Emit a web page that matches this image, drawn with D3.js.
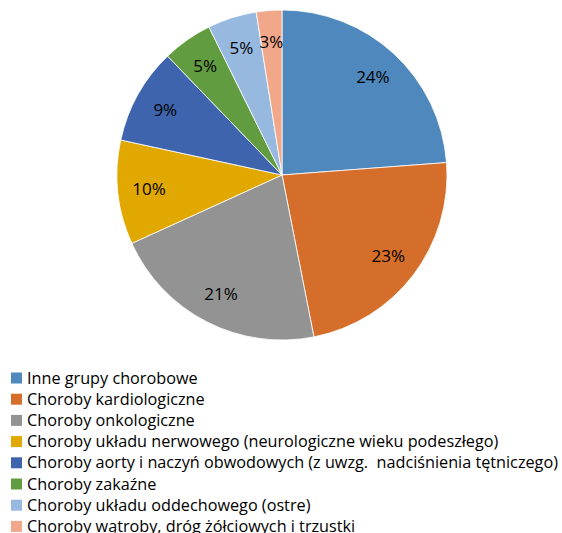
<!DOCTYPE html>
<html>
<head>
<meta charset="utf-8">
<script src="https://cdn.jsdelivr.net/npm/d3@7"></script>
<style>
    body { margin: 0; background: #fff; }
    text { font-family: "Open Sans", "Noto Sans", sans-serif; fill: #000; }
    .legend-label { white-space: pre; }
</style>
</head>
<body>
<svg id="chart"></svg>
<script>
// data
const categories = [
    'Inne grupy chorobowe',
    'Choroby kardiologiczne',
    'Choroby onkologiczne',
    'Choroby układu nerwowego (neurologiczne wieku podeszłego)',
    'Choroby aorty i naczyń obwodowych (z uwzg.  nadciśnienia tętniczego)',
    'Choroby zakaźne',
    'Choroby układu oddechowego (ostre)',
    'Choroby wątroby, dróg żółciowych i trzustki'
];
const shares = [23.8, 23.1, 21.3, 10.2, 9.4, 4.9, 4.8, 2.5];
const sliceLabels = ['24%', '23%', '21%', '10%', '9%', '5%', '5%', '3%'];
const colors = ['#4e88bc', '#d46e2a', '#939393', '#e0a800', '#3e64ad', '#629c40', '#97b9e0', '#f1a88a'];

const width = 562, height = 533;

const svg = d3.select('#chart')
    .attr('width', width)
    .attr('height', height);

const data = categories.map((c, i) => ({ name: c, value: shares[i], label: sliceLabels[i], color: colors[i] }));

const radius = 165;
const pieG = svg.append('g')
    .attr('transform', 'translate(282,175)');

const pie = d3.pie().sort(null).value(d => d.value);
const arc = d3.arc().innerRadius(0).outerRadius(radius);
const labelArc = d3.arc().innerRadius(radius * 0.81).outerRadius(radius * 0.81);

const arcs = pie(data);

pieG.selectAll('.slice')
    .data(arcs)
    .enter().append('path')
    .attr('class', 'slice')
    .attr('d', arc)
    .attr('fill', d => d.data.color)
    .attr('stroke', '#fff')
    .attr('stroke-width', 0.8);

pieG.selectAll('.pct')
    .data(arcs)
    .enter().append('text')
    .attr('class', 'pct')
    .attr('transform', d => `translate(${labelArc.centroid(d)})`)
    .attr('text-anchor', 'middle')
    .attr('dy', '0.36em')
    .style('font-size', '17px')
    .text(d => d.data.label);

// legend
const legend = svg.append('g')
    .attr('transform', 'translate(11,378)');

const rowH = 21.2;
const rows = legend.selectAll('.row')
    .data(data)
    .enter().append('g')
    .attr('class', 'row')
    .attr('transform', (d, i) => `translate(0,${i * rowH})`);

rows.append('rect')
    .attr('x', 0)
    .attr('y', -5.5)
    .attr('width', 11)
    .attr('height', 11)
    .attr('fill', d => d.color);

const labels = rows.append('text')
    .attr('class', 'legend-label')
    .attr('x', 16)
    .attr('dy', '0.35em')
    .style('font-size', '15px')
    .text(d => d.name);

// fit the longest line to the reference width (~531px)
let maxW = 0;
labels.each(function() { maxW = Math.max(maxW, this.getComputedTextLength()); });
const fs = 15 * 531 / maxW;
labels.style('font-size', fs + 'px');
</script>
</body>
</html>
